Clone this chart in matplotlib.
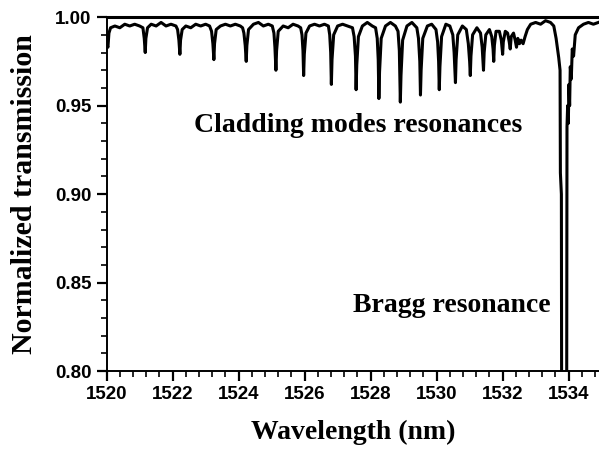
import matplotlib
matplotlib.use("Agg")
import matplotlib.pyplot as plt
from matplotlib.ticker import MultipleLocator

# Transmission trace (wavelength in nm, normalized T)
# one line per cladding-mode dip, same grouping in both lists
wavelength = [
    1520.00, 1520.02, 1520.04, 1520.07, 1520.12, 1520.25, 1520.40, 1520.55, 1520.70, 1520.85,
    1521.00, 1521.10, 1521.14, 1521.17, 1521.19, 1521.24, 1521.35, 1521.50, 1521.65, 1521.80, 1521.95,
    1522.10, 1522.15, 1522.19, 1522.22, 1522.24, 1522.29, 1522.40, 1522.55, 1522.70, 1522.85, 1523.00,
    1523.12, 1523.18, 1523.22, 1523.25, 1523.27, 1523.32, 1523.45, 1523.60, 1523.75, 1523.90, 1524.05,
    1524.12, 1524.16, 1524.20, 1524.23, 1524.25, 1524.30, 1524.45, 1524.60, 1524.75, 1524.90,
    1525.02, 1525.07, 1525.10, 1525.13, 1525.15, 1525.20, 1525.35, 1525.50, 1525.65, 1525.80,
    1525.88, 1525.92, 1525.95, 1525.97, 1525.99, 1526.04, 1526.15, 1526.30, 1526.45, 1526.60,
    1526.72, 1526.76, 1526.79, 1526.81, 1526.83, 1526.88, 1527.00, 1527.15, 1527.30,
    1527.45, 1527.50, 1527.54, 1527.56, 1527.58, 1527.63, 1527.75, 1527.90, 1528.05,
    1528.15, 1528.20, 1528.23, 1528.25, 1528.27, 1528.32, 1528.45, 1528.60, 1528.75,
    1528.83, 1528.87, 1528.90, 1528.92, 1528.97, 1529.10, 1529.25, 1529.40,
    1529.45, 1529.49, 1529.51, 1529.53, 1529.58, 1529.72, 1529.85, 1529.98,
    1530.03, 1530.06, 1530.08, 1530.10, 1530.15, 1530.28, 1530.40, 1530.49,
    1530.53, 1530.57, 1530.59, 1530.64, 1530.78, 1530.90,
    1530.96, 1531.00, 1531.02, 1531.04, 1531.09, 1531.22, 1531.33,
    1531.38, 1531.42, 1531.44, 1531.49, 1531.60, 1531.67,
    1531.71, 1531.73, 1531.75, 1531.80, 1531.90, 1531.96,
    1532.00, 1532.02, 1532.08, 1532.15, 1532.20, 1532.23, 1532.26, 1532.33, 1532.38,
    1532.42, 1532.46, 1532.51, 1532.56, 1532.62, 1532.68, 1532.75, 1532.85, 1533.00,
    1533.15, 1533.30, 1533.45, 1533.55, 1533.62, 1533.70, 1533.74, 1533.75, 1533.78,
    1533.80, 1533.93, 1533.95, 1533.97, 1533.99, 1534.01, 1534.03, 1534.05,
    1534.08, 1534.11, 1534.15, 1534.20, 1534.30, 1534.45, 1534.60, 1534.75, 1534.90,
]
transmission = [
    0.989, 0.984, 0.983, 0.991, 0.994, 0.995, 0.994, 0.996, 0.995, 0.996,
    0.995, 0.994, 0.988, 0.980, 0.988, 0.994, 0.996, 0.995, 0.997, 0.995, 0.996,
    0.995, 0.993, 0.987, 0.979, 0.987, 0.993, 0.995, 0.994, 0.996, 0.995, 0.996,
    0.995, 0.992, 0.985, 0.976, 0.985, 0.993, 0.995, 0.996, 0.995, 0.996, 0.995,
    0.994, 0.991, 0.984, 0.975, 0.984, 0.993, 0.996, 0.997, 0.995, 0.996,
    0.995, 0.991, 0.983, 0.970, 0.981, 0.992, 0.995, 0.994, 0.996, 0.995,
    0.994, 0.990, 0.981, 0.967, 0.979, 0.991, 0.995, 0.996, 0.995, 0.996,
    0.995, 0.990, 0.980, 0.962, 0.976, 0.990, 0.995, 0.996, 0.995,
    0.994, 0.989, 0.978, 0.959, 0.973, 0.989, 0.995, 0.997, 0.995,
    0.994, 0.988, 0.976, 0.954, 0.969, 0.988, 0.995, 0.997, 0.995,
    0.992, 0.981, 0.952, 0.967, 0.987, 0.995, 0.997, 0.994,
    0.988, 0.975, 0.956, 0.970, 0.988, 0.995, 0.996, 0.993,
    0.986, 0.975, 0.959, 0.972, 0.989, 0.996, 0.995, 0.990,
    0.980, 0.963, 0.976, 0.990, 0.995, 0.993,
    0.985, 0.975, 0.967, 0.978, 0.990, 0.994, 0.991,
    0.983, 0.970, 0.980, 0.990, 0.993, 0.989,
    0.982, 0.975, 0.984, 0.992, 0.992, 0.987,
    0.979, 0.986, 0.992, 0.991, 0.986, 0.982, 0.989, 0.991, 0.987,
    0.983, 0.988, 0.985, 0.987, 0.985, 0.989, 0.993, 0.996, 0.997,
    0.996, 0.998, 0.997, 0.995, 0.988, 0.977, 0.970, 0.912, 0.900,
    0.600, 0.600, 0.938, 0.950, 0.940, 0.962, 0.950, 0.972,
    0.965, 0.982, 0.978, 0.990, 0.994, 0.996, 0.997, 0.996, 0.997,
]

x_ticks = [1520, 1522, 1524, 1526, 1528, 1530, 1532, 1534]
y_ticks = [0.80, 0.85, 0.90, 0.95, 1.00]

serif = "Liberation Serif"
sans = "Liberation Sans"

fig = plt.figure(figsize=(5.99, 4.51), dpi=100)
ax = fig.add_axes([0.178, 0.177, 0.822, 0.785])

ax.plot(wavelength, transmission, color="black", linewidth=2.2)

ax.set_xlim(1520, 1534.92)
ax.set_ylim(0.80, 1.00)
ax.set_xticks(x_ticks)
ax.set_yticks(y_ticks)
ax.xaxis.set_minor_locator(MultipleLocator(0.4))
ax.yaxis.set_minor_locator(MultipleLocator(0.01))
ax.set_xticklabels([str(t) for t in x_ticks], fontname=sans, fontweight="bold", fontsize=13.5)
ax.set_yticklabels([f"{t:.2f}" for t in y_ticks], fontname=sans, fontweight="bold", fontsize=13.5)
ax.tick_params(which="major", direction="out", length=7, width=1.6, pad=4)
ax.tick_params(which="minor", direction="out", length=4, width=1.2)

ax.spines["right"].set_visible(False)
ax.spines["top"].set_linewidth(2.2)
ax.spines["left"].set_linewidth(1.4)
ax.spines["bottom"].set_linewidth(1.4)

ax.set_xlabel("Wavelength (nm)", fontname=serif, fontweight="bold", fontsize=20, labelpad=12)
ax.set_ylabel("Normalized transmission", fontname=serif, fontweight="bold", fontsize=21.5, labelpad=12)

ax.text(1522.66, 0.939, "Cladding modes resonances", fontname=serif, fontweight="bold",
        fontsize=20, ha="left", va="center")
ax.text(1533.44, 0.8373, "Bragg resonance", fontname=serif, fontweight="bold",
        fontsize=20, ha="right", va="center")

fig.savefig("out.png", dpi=100)
